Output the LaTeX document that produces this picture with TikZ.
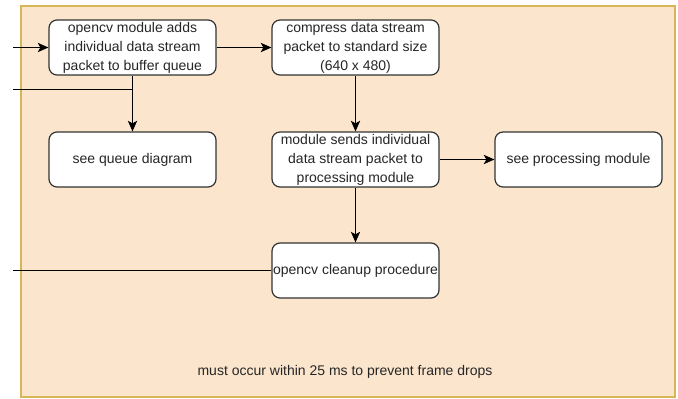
\documentclass[tikz,border=0pt]{standalone}
\usepackage{fontspec}
\setmainfont{Liberation Sans}
\usetikzlibrary{positioning,arrows.meta}
\definecolor{peach}{HTML}{FBE5CD}
\definecolor{gold}{HTML}{D6B656}

\begin{document}
\begin{tikzpicture}[x=0.75pt, y=-0.75pt,
  stepbox/.style={draw=black!80, fill=white, rounded corners=6pt, line width=0.9pt,
    minimum width=125.25pt, minimum height=41.25pt, align=center, inner sep=0pt},
  flow/.style={-{Stealth[length=8pt,width=7pt,inset=2pt]}, line width=0.75pt},
  plain/.style={line width=0.75pt},
  every node/.style={font=\fontsize{10.5}{14.25}\selectfont, text=black!85}
]
\useasboundingbox (0,0) rectangle (678,399);
\draw[fill=peach, draw=gold, line width=1.4pt] (21,6) rectangle (675,397);

\node[stepbox] (add) at (132.5,47.5) {opencv module adds\\individual data stream\\packet to buffer queue};
\node[stepbox] (compress) at (355.5,47.5) {compress data stream\\packet to standard size\\(640 x 480)};
\node[stepbox] (queue) at (132.5,159.5) {see queue diagram};
\node[stepbox] (sends) at (355.5,159.5) {module sends individual\\data stream packet to\\processing module};
\node[stepbox] (process) at (578.5,159.5) {see processing module};
\node[stepbox] (cleanup) at (355.5,270.5) {opencv cleanup procedure};

\node (deadline) at (345,372) {must occur within 25 ms to prevent frame drops};

% incoming lines from the left
\coordinate (in1) at (13,47.5);
\coordinate (in2) at (13,90);
\coordinate (in3) at (13,270.5);
\coordinate (join) at (add.south |- in2);

\draw[flow] (in1) -- (add);
\draw[plain] (in2) -- (join);
\draw[flow] (add) -- (queue);
\draw[flow] (add) -- (compress);
\draw[flow] (compress) -- (sends);
\draw[flow] (sends) -- (process);
\draw[flow] (sends) -- (cleanup);
\draw[plain] (in3) -- (cleanup.west);
\end{tikzpicture}
\end{document}
